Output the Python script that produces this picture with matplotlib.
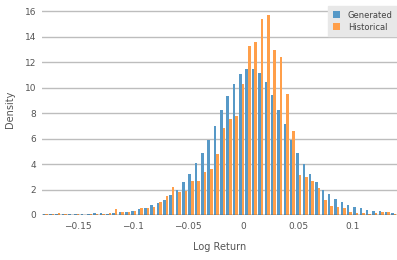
import numpy as np
import matplotlib
matplotlib.use("Agg")
import matplotlib.pyplot as plt

# histogram range and heights (density)
x_min, x_max = -0.183, 0.140
generated = [0.05, 0.05, 0.05, 0.05, 0.05, 0.05, 0.05, 0.08, 0.12, 0.13,
             0.10, 0.15, 0.25, 0.25, 0.35, 0.50, 0.58, 0.75, 0.97, 1.20,
             1.58, 2.00, 2.60, 3.20, 4.05, 4.90, 5.90, 7.00, 8.20, 9.35,
             10.30, 11.05, 11.45, 11.45, 11.15, 10.45, 9.45, 8.25, 7.10, 5.90,
             4.90, 4.00, 3.20, 2.55, 2.00, 1.65, 1.25, 1.00, 0.80, 0.60,
             0.55, 0.40, 0.30, 0.30, 0.25, 0.15]
historical = [0.05, 0.05, 0.12, 0.05, 0.03, 0.05, 0.03, 0.05, 0.05, 0.05,
              0.15, 0.50, 0.25, 0.25, 0.35, 0.58, 0.58, 0.60, 1.05, 1.50,
              2.20, 1.80, 1.90, 2.65, 2.70, 3.35, 3.60, 4.75, 6.85, 7.55,
              7.80, 10.30, 13.25, 13.55, 15.35, 15.65, 12.95, 12.40, 9.50, 6.55,
              3.10, 2.95, 2.70, 2.10, 1.15, 0.70, 0.60, 0.55, 0.25, 0.15,
              0.15, 0.10, 0.15, 0.25, 0.25, 0.05]
x_ticks = [-0.15, -0.1, -0.05, 0, 0.05, 0.1]
x_ticklabels = ["\u22120.15", "\u22120.1", "\u22120.05", "0", "0.05", "0.1"]
y_ticks = [0, 2, 4, 6, 8, 10, 12, 14, 16]

edges = np.linspace(x_min, x_max, len(generated) + 1)
centers = (edges[:-1] + edges[1:]) / 2
w = edges[1] - edges[0]

blue = '#5799c7'
orange = '#ff9f4a'

fig = plt.figure(figsize=(3.97, 2.6), dpi=100)
ax = fig.add_axes([42/397, 45/260, 355/397, 211/260])

ax.bar(centers - 0.2*w, generated, width=0.4*w, color=blue, label='Generated', zorder=2)
ax.bar(centers + 0.2*w, historical, width=0.4*w, color=orange, label='Historical', zorder=2)

ax.set_xlim(x_min, x_max)
ax.set_ylim(0, 16.55)
ax.set_xticks(x_ticks)
ax.set_xticklabels(x_ticklabels)
ax.set_yticks(y_ticks)
ax.grid(axis='y', color='#bdbdbd', linewidth=1.0, zorder=0)
ax.axhline(0, color='#444444', linewidth=1.0, zorder=3)
for s in ax.spines.values():
    s.set_visible(False)
ax.tick_params(axis='both', length=0, labelsize=6.5, labelcolor='#555555')
ax.tick_params(axis='x', pad=5)
ax.tick_params(axis='y', pad=4)
ax.set_xlabel('Log Return', fontsize=7, color='#555555', labelpad=8)
ax.set_ylabel('Density', fontsize=7, color='#555555', labelpad=7)

leg = ax.legend(loc='upper right', bbox_to_anchor=(1.012, 1.01), fontsize=6,
                frameon=True, fancybox=False, handlelength=0.9, handleheight=0.9,
                handletextpad=0.9, borderpad=0.55, labelspacing=0.35)
leg.get_frame().set_facecolor('#e8e8e8')
leg.get_frame().set_edgecolor('#e8e8e8')
leg.get_frame().set_alpha(1)
for t in leg.get_texts():
    t.set_color('#444444')

fig.savefig('out.png', dpi=100)
